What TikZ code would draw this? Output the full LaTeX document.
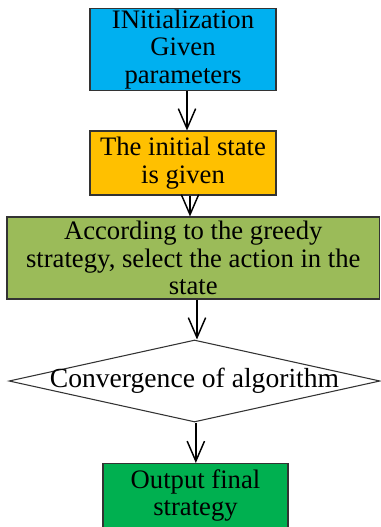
\documentclass[tikz,border=0pt]{standalone}
\usepackage{fontspec}
\setmainfont{Liberation Serif}
\usetikzlibrary{shapes.geometric,arrows.meta}
\definecolor{cblue}{HTML}{00B0F0}
\definecolor{corange}{HTML}{FFC000}
\definecolor{colive}{HTML}{9BBB59}
\definecolor{cgreen}{HTML}{00B050}
\tikzset{
  box/.style={draw=black!80, line width=0.8pt, align=center, inner sep=0pt,
    font=\fontsize{20}{20.8}\selectfont},
  arr/.style={line width=1.3pt, -{Straight Barb[length=15pt,width=13pt,line width=1.1pt]}}
}
\begin{document}
\begin{tikzpicture}[x=0.75pt,y=-0.75pt]
\useasboundingbox (0,0) rectangle (380,527);
\node[box, fill=cblue, minimum width=139.5pt, minimum height=61.5pt] (a) at (183,49.5)
  {INitialization\\Given\\parameters};
\node[box, fill=corange, minimum width=139.5pt, minimum height=48pt] (b) at (183,163)
  {The initial state\\is given};
\node[box, fill=colive, minimum width=279.4pt, minimum height=61.5pt] (g) at (193.25,258)
  {According to the greedy\\strategy, select the action in the\\state};
\node[draw=black!80, line width=0.8pt, fill=white, diamond, inner sep=0pt,
  minimum width=278.25pt, minimum height=61.5pt] (d) at (194.5,381) {};
\node[font=\fontsize{20.7}{21}\selectfont, inner sep=0pt] (dt) at (d.center) {Convergence of algorithm};
\node[box, fill=cgreen, minimum width=138.75pt, minimum height=48pt] (o) at (195.5,495.5)
  {Output final\\strategy};
\draw[arr] ([xshift=3pt]a.south) -- ([xshift=3pt]b.north);
\draw[arr] ([xshift=5.25pt]b.south) -- ([xshift=5.25pt]b.south |- g.north);
\draw[arr] ([xshift=2.8pt]g.south) -- ([xshift=2.8pt]g.south |- d.north);
\draw[arr] ([xshift=1pt]d.south) -- ([xshift=1pt]d.south |- o.north);
\end{tikzpicture}
\end{document}
